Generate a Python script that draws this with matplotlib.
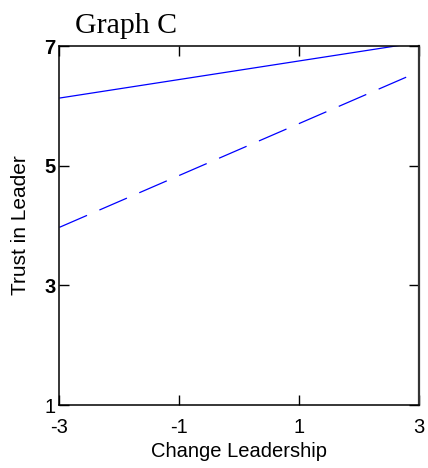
import matplotlib
matplotlib.use("Agg")
import matplotlib.pyplot as plt
import numpy as np

plt.rcParams['font.family'] = ['Liberation Sans', 'DejaVu Sans']
plt.rcParams['lines.scale_dashes'] = False

x_vals = [-3, 3]
solid_y = [6.13, 7.06]
dashed_y = [3.97, 6.57]
x_ticks = [-3, -1, 1, 3]
y_ticks = [1, 3, 5, 7]

fig = plt.figure(figsize=(4.28, 4.68), dpi=100)
ax = fig.add_axes([0.139, 0.1346, 0.8395, 0.7671])

ax.plot(x_vals, solid_y, color='#0000ff', lw=0.9, solid_capstyle='butt')
ax.plot(x_vals, dashed_y, color='#0000ff', lw=0.9, dashes=(21.6, 9.7), dash_capstyle='butt')

ax.set_xlim(-3, 3)
ax.set_ylim(1, 7)
ax.set_xticks(x_ticks)
ax.set_yticks(y_ticks)
ax.set_xticklabels([str(v) for v in x_ticks], fontsize=14.5)
ax.set_yticklabels([str(v) for v in y_ticks], fontsize=14.5)
for lbl in ax.get_yticklabels():
    if lbl.get_text() != '1':
        lbl.set_fontweight('bold')

ax.tick_params(direction='in', length=7.5, width=1.0, top=True, right=True,
               colors='black')
ax.tick_params(axis='x', pad=9)
ax.tick_params(axis='y', pad=3)

for s in ['left', 'bottom', 'top']:
    ax.spines[s].set_linewidth(1.1)
    ax.spines[s].set_color('black')
ax.spines['right'].set_linewidth(1.6)
ax.spines['right'].set_color('#333333')

ax.set_xlabel('Change Leadership', fontsize=14.5, labelpad=4)
ax.set_ylabel('Trust in Leader', fontsize=15, labelpad=10)

fig.text(75 / 428, 1 - 33 / 468, 'Graph C', fontsize=21.5,
         family=['Liberation Serif', 'DejaVu Serif'], ha='left', va='baseline')

fig.savefig('out.png', dpi=100)
